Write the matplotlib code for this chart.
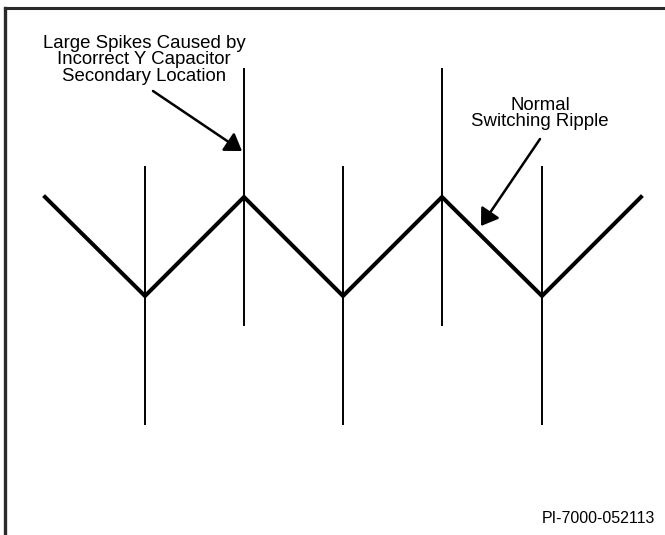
import matplotlib
matplotlib.use('Agg')
import matplotlib.pyplot as plt

plt.rcParams['font.family'] = ['Liberation Sans', 'DejaVu Sans']

# Waveform (pixel-like units, y grows downward)
ripple_x = [45, 145, 244, 343, 442, 542, 641]
ripple_y = [197, 296, 197, 296, 197, 296, 197]

spike_x = [145, 244, 343, 442, 542]
spike_top = [166, 68, 166, 68, 166]
spike_bottom = [425, 326, 425, 326, 425]

label_spikes = 'Large Spikes Caused by\nIncorrect Y Capacitor\nSecondary Location'
label_ripple = 'Normal\nSwitching Ripple'
label_id = 'PI-7000-052113'

fig = plt.figure(figsize=(6.65, 5.35), dpi=100)
ax = fig.add_axes([0, 0, 1, 1])
ax.set_xlim(0, 665)
ax.set_ylim(535, 0)
ax.axis('off')

# frame (only top and left edges visible)
ax.plot([5, 665], [8, 8], color='#2a2a2a', lw=2.2, solid_capstyle='projecting', clip_on=False)
ax.plot([5, 5], [8, 535], color='#2a2a2a', lw=2.4, solid_capstyle='projecting', clip_on=False)

# spikes
ax.vlines(spike_x, spike_top, spike_bottom, color='black', lw=1.4)

# ripple
ax.plot(ripple_x, ripple_y, color='black', lw=2.9, solid_joinstyle='miter')

arrow = dict(arrowstyle='-|>,head_length=0.45,head_width=0.3', color='black', lw=1.8,
             mutation_scale=22, shrinkA=0, shrinkB=0)
ax.annotate('', xy=(242, 151), xytext=(153, 91), arrowprops=arrow)
ax.annotate('', xy=(481, 226), xytext=(540, 139), arrowprops=arrow)

ax.text(144, 35, label_spikes, ha='center', va='top', fontsize=13.4,
        linespacing=0.95)
ax.text(540, 97, label_ripple, ha='center', va='top', fontsize=13.4,
        linespacing=0.95)
ax.text(655, 523, label_id, ha='right', va='baseline', fontsize=11.5)

fig.savefig('out.png', dpi=100)
